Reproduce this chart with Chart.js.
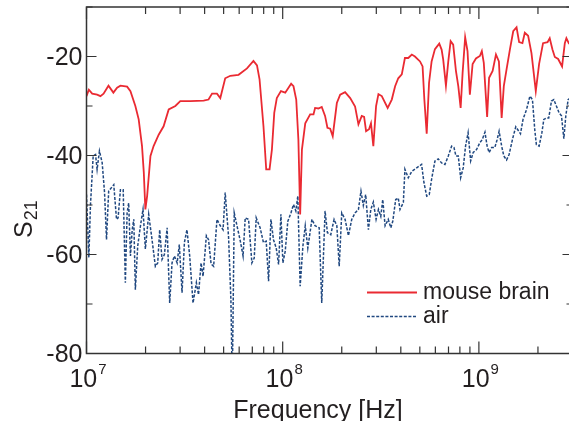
<!DOCTYPE html>
<html>
<head>
<meta charset="utf-8">
<script src="https://cdn.jsdelivr.net/npm/chart.js@4.4.1/dist/chart.umd.min.js"></script>
<style>
  html, body { margin: 0; padding: 0; background: #fff; overflow: hidden; width: 569px; height: 421px; }
  canvas { display: block; }
</style>
</head>
<body>
<canvas id="c" width="576" height="421"></canvas>
<script>
// ---- data (frequency as log10(Hz), S21 in dB) ----
const logFreqBrain = [
  7.000,7.012,7.029,7.054,7.071,7.087,7.112,7.137,7.156,7.173,7.207,7.224,7.249,7.266,7.283,7.292,7.300,7.309,7.326,7.342,
  7.368,7.393,7.419,7.453,7.478,7.529,7.597,7.622,7.640,7.665,7.682,7.707,7.733,7.775,7.818,7.851,7.869,7.882,7.902,7.916,
  7.933,7.945,7.957,7.970,7.991,8.013,8.043,8.055,8.069,8.080,8.089,8.098,8.115,8.140,8.157,8.165,8.182,8.199,8.216,8.228,
  8.242,8.255,8.276,8.293,8.318,8.344,8.369,8.386,8.403,8.415,8.425,8.440,8.450,8.462,8.476,8.488,8.505,8.535,8.556,8.573,
  8.589,8.607,8.623,8.640,8.658,8.674,8.700,8.713,8.722,8.734,8.746,8.759,8.776,8.798,8.810,8.818,8.832,8.844,8.856,8.869,
  8.883,8.895,8.907,8.917,8.930,8.942,8.954,8.968,8.985,9.005,9.015,9.025,9.042,9.052,9.070,9.087,9.102,9.116,9.127,9.141,
  9.158,9.175,9.192,9.205,9.222,9.234,9.251,9.268,9.290,9.307,9.327,9.350,9.361,9.375,9.387,9.404,9.424,9.438,9.446,9.458,
  9.477
];
const s21Brain = [
  -28.0,-26.7,-27.5,-27.7,-28.0,-27.5,-25.9,-27.3,-26.3,-25.9,-26.1,-27.0,-30.0,-32.7,-38.1,-43.4,-50.9,-48.2,-40.1,-38.1,
  -35.8,-34.1,-30.7,-30.0,-29.0,-29.0,-28.9,-28.7,-27.5,-27.5,-28.4,-24.4,-23.9,-23.7,-22.4,-20.9,-21.8,-24.6,-34.1,-42.8,
  -42.8,-38.8,-31.4,-28.4,-27.0,-27.3,-25.5,-26.0,-28.7,-36.8,-51.9,-38.8,-33.5,-31.7,-31.7,-30.4,-30.5,-30.2,-32.0,-34.4,
  -34.6,-36.1,-29.4,-27.7,-27.2,-28.4,-30.1,-33.7,-32.0,-32.2,-35.1,-34.7,-33.5,-38.1,-30.0,-27.6,-28.0,-30.4,-28.7,-26.0,
  -24.4,-23.6,-20.3,-20.3,-19.6,-20.0,-21.0,-22.0,-28.7,-35.6,-25.3,-21.0,-18.5,-17.4,-18.6,-20.6,-25.9,-21.0,-16.9,-17.6,
  -22.9,-26.0,-30.4,-23.3,-16.1,-18.9,-27.7,-21.5,-20.4,-19.9,-18.9,-21.3,-32.2,-24.3,-22.9,-19.6,-21.0,-32.4,-26.0,-22.6,
  -18.6,-14.9,-14.1,-17.1,-17.3,-15.2,-15.8,-19.3,-27.0,-21.5,-17.3,-17.1,-16.3,-18.6,-20.1,-20.5,-22.0,-17.3,-16.3,-17.3,
  -18.0
];
const logFreqAir = [
  7.000,7.012,7.020,7.034,7.046,7.054,7.066,7.080,7.092,7.102,7.113,7.139,7.153,7.161,7.173,7.187,7.198,7.207,7.215,7.224,
  7.233,7.241,7.249,7.261,7.275,7.288,7.300,7.317,7.334,7.351,7.363,7.373,7.385,7.397,7.411,7.424,7.436,7.448,7.462,7.473,
  7.487,7.499,7.512,7.526,7.543,7.560,7.571,7.584,7.594,7.611,7.622,7.635,7.648,7.665,7.682,7.696,7.707,7.724,7.736,7.743,
  7.753,7.767,7.784,7.798,7.809,7.826,7.843,7.855,7.865,7.885,7.902,7.916,7.928,7.940,7.953,7.967,7.979,7.991,8.001,8.013,
  8.026,8.042,8.055,8.067,8.077,8.089,8.103,8.115,8.128,8.149,8.165,8.186,8.199,8.216,8.228,8.245,8.262,8.276,8.288,8.301,
  8.318,8.335,8.352,8.369,8.386,8.399,8.411,8.423,8.437,8.449,8.462,8.476,8.488,8.500,8.510,8.522,8.538,8.551,8.561,8.576,
  8.589,8.598,8.615,8.623,8.640,8.658,8.683,8.708,8.720,8.734,8.747,8.759,8.776,8.793,8.810,8.827,8.844,8.861,8.873,8.883,
  8.895,8.907,8.920,8.932,8.945,8.958,8.971,8.988,9.005,9.017,9.031,9.042,9.052,9.065,9.081,9.093,9.103,9.116,9.127,9.141,
  9.154,9.172,9.188,9.200,9.212,9.225,9.243,9.260,9.273,9.285,9.293,9.307,9.321,9.331,9.345,9.356,9.370,9.382,9.395,9.409,
  9.421,9.433,9.443,9.455,9.477
];
const s21Air = [
  -47.9,-60.6,-50.2,-40.1,-39.8,-42.8,-39.1,-41.5,-47.5,-57.0,-47.2,-45.9,-52.9,-52.6,-46.9,-46.9,-65.7,-51.6,-49.6,-60.3,
  -55.0,-52.9,-67.1,-58.3,-54.2,-50.9,-58.9,-51.9,-57.0,-62.4,-61.7,-55.0,-61.0,-60.0,-54.6,-69.8,-61.7,-60.3,-61.7,-58.0,
  -67.7,-57.6,-55.0,-60.3,-69.8,-65.7,-68.1,-61.7,-64.4,-56.2,-57.0,-61.9,-62.4,-52.9,-54.2,-55.0,-47.5,-56.4,-69.1,-86.0,
  -51.6,-54.2,-57.3,-60.3,-52.6,-52.9,-61.7,-60.7,-52.6,-54.6,-57.6,-57.3,-65.4,-52.9,-57.0,-58.7,-62.0,-51.9,-61.7,-59.3,
  -53.3,-51.6,-49.9,-51.2,-48.2,-66.4,-58.3,-54.2,-58.7,-52.9,-54.2,-54.6,-69.8,-51.2,-55.6,-56.0,-52.9,-54.2,-62.4,-51.6,
  -52.9,-56.2,-52.9,-51.6,-50.9,-47.2,-50.1,-47.9,-55.0,-50.9,-49.4,-52.9,-50.9,-52.3,-48.9,-54.2,-52.9,-54.6,-53.3,-48.9,
  -48.6,-50.9,-49.5,-42.8,-44.5,-43.2,-42.5,-41.8,-45.5,-48.2,-47.9,-44.8,-41.1,-40.7,-41.5,-41.8,-40.1,-38.1,-38.4,-40.1,
  -40.1,-44.5,-42.5,-38.1,-35.4,-41.1,-39.4,-38.8,-37.4,-36.8,-35.3,-38.1,-39.4,-38.4,-38.4,-36.8,-35.1,-38.1,-40.1,-40.9,
  -39.8,-36.6,-34.2,-34.9,-35.6,-32.7,-30.7,-28.0,-28.7,-34.9,-37.8,-38.1,-35.4,-32.7,-32.4,-32.4,-29.0,-28.7,-30.0,-31.4,
  -32.0,-36.6,-32.0,-28.7,-28.0
];
const seriesNames = ['mouse brain', 'air'];
const yTickValues = [-80, -60, -40, -20];
const yTickLabels = ['-80', '-60', '-40', '-20'];
const xDecades = [7, 8, 9];
const xTitle = 'Frequency [Hz]';
const yTitleMain = 'S';
const yTitleSub = '21';

const RED = 'rgb(234,42,50)';
const BLUE = 'rgb(32,72,128)';
const INK = '#231f20';
const FONT = '"Liberation Sans", Arial, Helvetica, sans-serif';

const toPoints = (lf, v) => lf.map((e, i) => ({ x: Math.pow(10, e), y: v[i] }));

const axesPlugin = {
  id: 'axesPlugin',
  afterDraw(chart) {
    const { ctx, chartArea: { left, right, top, bottom }, scales: { x, y } } = chart;
    ctx.save();
    // frame
    ctx.strokeStyle = '#333';
    ctx.lineWidth = 1.5;
    ctx.strokeRect(left, top, right - left, bottom - top);
    // y ticks (inward, both sides)
    ctx.lineWidth = 1.2;
    ctx.beginPath();
    for (let v = -80; v <= -10; v += 10) {
      const py = y.getPixelForValue(v);
      const len = (v % 20 === 0) ? 10 : 6;
      ctx.moveTo(left, py); ctx.lineTo(left + len, py);
      ctx.moveTo(right, py); ctx.lineTo(right - len, py);
    }
    // x ticks (inward, top and bottom)
    for (const n of xDecades) {
      for (let m = 1; m <= 9; m++) {
        const f = m * Math.pow(10, n);
        if (f > x.max) break;
        const px = x.getPixelForValue(f);
        const len = m === 1 ? 12 : 7;
        ctx.moveTo(px, bottom); ctx.lineTo(px, bottom - len);
        ctx.moveTo(px, top); ctx.lineTo(px, top + len);
      }
    }
    ctx.stroke();

    ctx.fillStyle = INK;
    // y tick labels
    ctx.font = '25px ' + FONT;
    ctx.textAlign = 'right';
    ctx.textBaseline = 'middle';
    yTickValues.forEach((v, i) => {
      ctx.fillText(yTickLabels[i], left - 4, y.getPixelForValue(v) + 2);
    });
    // x tick labels 10^n
    ctx.textAlign = 'left';
    ctx.textBaseline = 'alphabetic';
    for (const n of xDecades) {
      const px = x.getPixelForValue(Math.pow(10, n));
      ctx.font = '25px ' + FONT;
      const w1 = ctx.measureText('10').width;
      ctx.font = '15px ' + FONT;
      const w2 = ctx.measureText(String(n)).width;
      const x0 = px - (w1 + w2) / 2 + 1;
      ctx.font = '25px ' + FONT;
      ctx.fillText('10', x0, 387);
      ctx.font = '15px ' + FONT;
      ctx.fillText(String(n), x0 + w1 + 1, 374);
    }
    // x title
    ctx.font = '25px ' + FONT;
    ctx.textAlign = 'center';
    ctx.fillText(xTitle, 318, 418);
    // y title S_21 (rotated)
    ctx.save();
    ctx.translate(32, 238);
    ctx.rotate(-Math.PI / 2);
    ctx.textAlign = 'left';
    ctx.font = '25px ' + FONT;
    const ws = ctx.measureText(yTitleMain).width;
    ctx.fillText(yTitleMain, 0, 0);
    ctx.font = '18px ' + FONT;
    ctx.fillText(yTitleSub, ws + 1, 5);
    ctx.restore();

    // legend
    ctx.lineWidth = 1.8;
    ctx.strokeStyle = RED;
    ctx.beginPath(); ctx.moveTo(367, 292.5); ctx.lineTo(417, 292.5); ctx.stroke();
    ctx.lineWidth = 1.5;
    ctx.strokeStyle = BLUE;
    ctx.setLineDash([3, 1.6]);
    ctx.beginPath(); ctx.moveTo(367, 316.5); ctx.lineTo(417, 316.5); ctx.stroke();
    ctx.setLineDash([]);
    ctx.font = '23px ' + FONT;
    ctx.textAlign = 'left';
    ctx.textBaseline = 'middle';
    ctx.fillStyle = INK;
    ctx.fillText(seriesNames[0], 423, 293);
    ctx.fillText(seriesNames[1], 423, 317);
    ctx.restore();
  }
};

new Chart(document.getElementById('c'), {
  type: 'line',
  data: {
    datasets: [
      { label: seriesNames[0], data: toPoints(logFreqBrain, s21Brain), borderColor: RED, borderWidth: 1.8,
        pointRadius: 0, tension: 0, fill: false },
      { label: seriesNames[1], data: toPoints(logFreqAir, s21Air), borderColor: BLUE, borderWidth: 1.5,
        borderDash: [3, 1.6], pointRadius: 0, tension: 0, fill: false }
    ]
  },
  options: {
    responsive: false,
    animation: false,
    devicePixelRatio: 1,
    layout: { padding: { left: 86.5, right: 3.5, top: 7, bottom: 67.5 } },
    plugins: { legend: { display: false }, tooltip: { enabled: false } },
    scales: {
      x: { type: 'logarithmic', min: 1e7, max: 3e9, display: false },
      y: { type: 'linear', min: -80, max: -10, display: false }
    }
  },
  plugins: [axesPlugin]
});
</script>
</body>
</html>
